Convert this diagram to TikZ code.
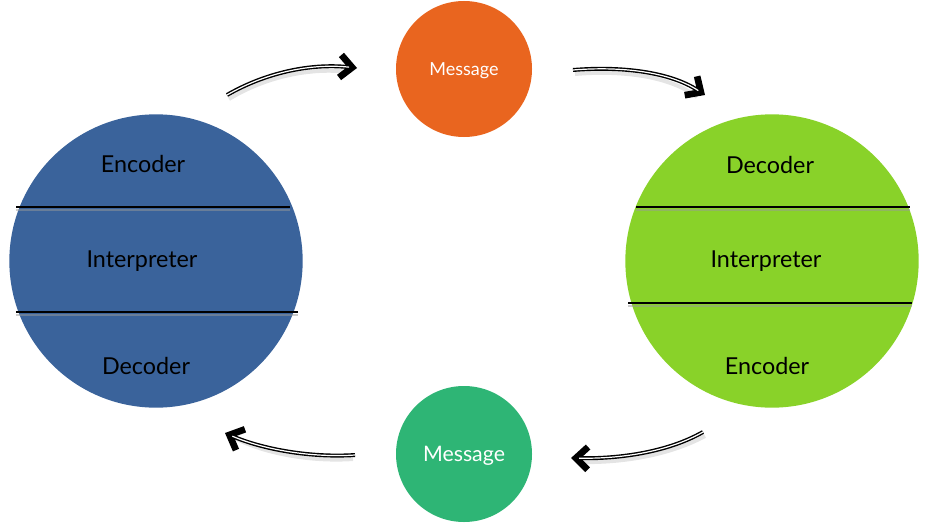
\documentclass[tikz,border=0pt]{standalone}
\usepackage{fontspec}
\setmainfont{Lato}
\usepackage{tikz}
\usetikzlibrary{arrows.meta, positioning}

\definecolor{senderblue}{RGB}{58,99,155}
\definecolor{receivergreen}{RGB}{137,210,41}
\definecolor{msgorange}{RGB}{233,101,31}
\definecolor{msgteal}{RGB}{46,181,117}

\begin{document}
\begin{tikzpicture}[x=0.75pt,y=-0.75pt,
            party/.style={circle,minimum size=220pt,inner sep=0pt},
            message/.style={circle,minimum size=102pt,inner sep=0pt,text=white,text depth=-2pt},
            layer/.style={font=\fontsize{17.5}{20}\selectfont,text=black},
            divider/.style={line width=1.3pt,black},
            flowline/.style={line width=3pt,black,-{Straight Barb[length=9pt,width=17pt,line width=5pt]}},
            flowcore/.style={line width=0.9pt,white,shorten >=6pt},
            shade/.style={line width=3pt,black!30,opacity=0.35}
        ]
            \useasboundingbox (0,0) rectangle (930,528);

            % Sender
            \node[party,fill=senderblue] (sender) at (156,261) {};
            \node[layer] (senc) at (143,164) {Encoder};
            \node[layer] (sint) at (142,261) {Interpreter};
            \node[layer] (sdec) at (146,366) {Decoder};
            \coordinate (s1a) at (16,207);  \coordinate (s1b) at (290,207);
            \coordinate (s2a) at (16,312);  \coordinate (s2b) at (298,312);
            \draw[divider,black!40,opacity=0.5] ([yshift=-2pt]s1a) -- ([yshift=-2pt]s1b);
            \draw[divider,black!40,opacity=0.5] ([yshift=-2pt]s2a) -- ([yshift=-2pt]s2b);
            \draw[divider] (s1a) -- (s1b);
            \draw[divider] (s2a) -- (s2b);

            % Receiver
            \node[party,fill=receivergreen] (receiver) at (772,261) {};
            \node[layer] (rdec) at (770,165) {Decoder};
            \node[layer] (rint) at (766,261) {Interpreter};
            \node[layer] (renc) at (767,366) {Encoder};
            \coordinate (r1a) at (636,207); \coordinate (r1b) at (910,207);
            \coordinate (r2a) at (628,303); \coordinate (r2b) at (912,303);
            \draw[divider,black!40,opacity=0.5] ([yshift=-2pt]r1a) -- ([yshift=-2pt]r1b);
            \draw[divider,black!40,opacity=0.5] ([yshift=-2pt]r2a) -- ([yshift=-2pt]r2b);
            \draw[divider] (r1a) -- (r1b);
            \draw[divider] (r2a) -- (r2b);

            % Messages
            \node[message,fill=msgorange,font=\fontsize{13.5}{15}\selectfont] (msgout) at (464,69) {Message};
            \node[message,fill=msgteal,font=\fontsize{16}{18}\selectfont] (msgback) at (464,454) {Message};

            % Arrow ends
            \coordinate (a1s) at (227,95);  \coordinate (a1e) at (357,68);
            \coordinate (a2s) at (573,70);  \coordinate (a2e) at (705,95);
            \coordinate (a3s) at (703,432); \coordinate (a3e) at (571,458);
            \coordinate (a4s) at (355,455); \coordinate (a4e) at (225,433);

            % Shadows
            \draw[shade] ([shift={(2,4)}]a1s) .. controls (265,77) and (310,67) .. ([shift={(-8,4)}]a1e);
            \draw[shade] ([shift={(2,4)}]a2s) .. controls (622,70) and (670,76) .. ([shift={(-8,2)}]a2e);
            \draw[shade] ([shift={(2,4)}]a3s) .. controls (668,456) and (620,463) .. ([shift={(8,4)}]a3e);
            \draw[shade] ([shift={(-2,4)}]a4s) .. controls (310,462) and (262,453) .. ([shift={(8,4)}]a4e);

            % Connections
            \draw[flowline] (a1s) .. controls (265,73) and (310,63) .. (a1e);
            \draw[flowcore] (a1s) .. controls (265,73) and (310,63) .. (a1e);
            \draw[flowline] (a2s) .. controls (622,66) and (670,72) .. (a2e);
            \draw[flowcore] (a2s) .. controls (622,66) and (670,72) .. (a2e);
            \draw[flowline] (a3s) .. controls (668,452) and (620,459) .. (a3e);
            \draw[flowcore] (a3s) .. controls (668,452) and (620,459) .. (a3e);
            \draw[flowline] (a4s) .. controls (310,458) and (262,449) .. (a4e);
            \draw[flowcore] (a4s) .. controls (310,458) and (262,449) .. (a4e);
        \end{tikzpicture}
\end{document}
